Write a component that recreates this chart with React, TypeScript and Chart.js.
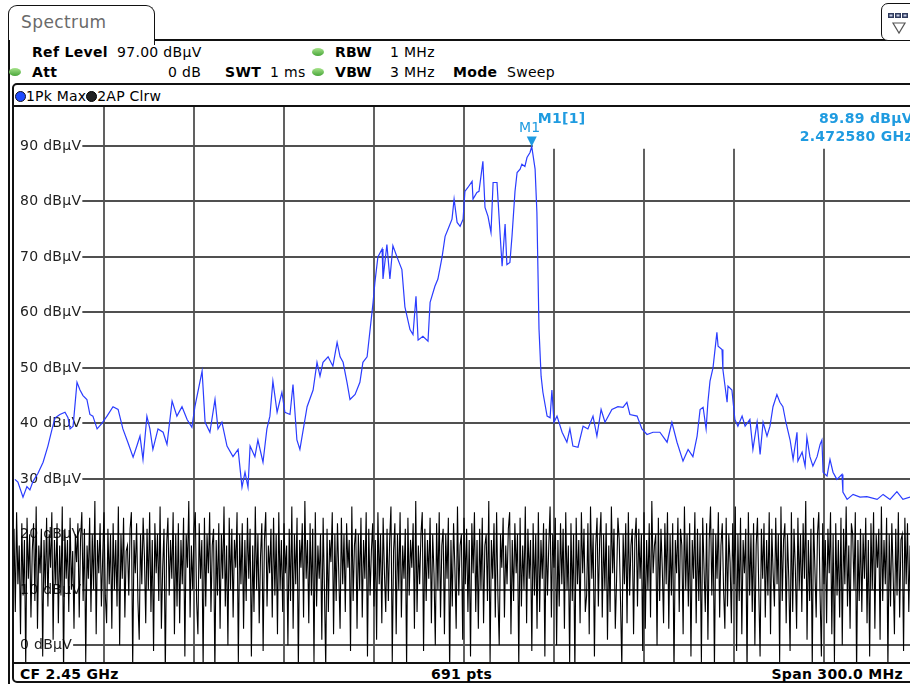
import { useEffect, useRef } from 'react';
import { Chart, registerables } from 'chart.js';

Chart.register(...registerables);

const FONT = '"DejaVu Sans", Verdana, sans-serif';
const MARKER_BLUE = '#1f9be0';

// Trace 1 (1Pk Max): frequency offset from 2.30 GHz in MHz, level in dBµV
const pkOffsetMHz = [
  0.3, 1.3, 3.0, 4.3, 5.3, 6.3, 8.0, 9.7, 11.3, 12.7, 13.7, 15.3, 17.0, 18.0, 18.7, 19.7, 21.0, 22.0, 23.0, 24.3,
  25.3, 26.3, 27.7, 29.3, 31.0, 33.0, 34.7, 36.3, 38.0, 39.7, 41.0, 42.0, 43.0, 44.3, 45.3, 46.3, 48.0, 49.7, 51.0, 52.7,
  54.3, 56.0, 57.7, 59.3, 60.3, 62.7, 63.7, 65.3, 67.0, 68.0, 69.3, 71.0, 73.0, 74.7, 76.0, 77.0, 78.0, 78.7, 80.3, 81.3,
  83.0, 84.3, 85.3, 86.3, 87.7, 89.3, 90.3, 92.0, 93.0, 94.3, 95.3, 97.7, 99.7, 101.0, 102.0, 103.0, 104.7, 106.3, 107.7, 108.7,
  109.7, 111.0, 112.0, 113.7, 115.3, 116.3, 117.7, 118.7, 119.7, 120.3, 121.3, 122.7, 123.0, 124.3, 125.3, 126.3, 128.0, 129.3, 130.3, 132.0,
  133.0, 134.0, 134.7, 136.3, 138.0, 138.7, 140.3, 141.3, 142.7, 143.7, 144.7, 146.0, 146.7, 147.7, 148.7, 149.7, 150.3, 151.3, 152.7, 153.0,
  154.3, 155.0, 156.3, 157.0, 158.0, 159.0, 159.7, 161.0, 162.0, 162.7, 163.7, 164.3, 165.3, 166.0, 167.0, 167.7, 168.7, 169.3, 170.3, 171.0,
  172.0, 172.58, 173.7, 174.3, 174.7, 175.0, 175.7, 176.3, 177.7, 178.7, 179.3, 180.0, 181.0, 182.7, 184.3, 185.3, 186.3, 188.0, 189.7, 191.3,
  193.0, 194.3, 195.7, 197.0, 199.3, 201.3, 203.0, 204.3, 205.3, 207.7, 209.3, 211.0, 213.0, 215.3, 217.7, 219.3, 221.0, 223.0, 224.7, 226.3,
  227.7, 228.7, 229.7, 230.7, 231.3, 232.0, 233.0, 234.3, 234.7, 236.0, 236.3, 237.7, 238.0, 239.3, 240.3, 241.3, 242.7, 243.7, 245.3, 246.3,
  247.7, 248.7, 249.7, 251.0, 252.0, 253.0, 254.3, 255.3, 256.3, 257.3, 258.7, 259.7, 261.0, 261.3, 262.7, 263.7, 264.3, 265.3, 266.3, 267.7,
  268.7, 269.3, 269.7, 271.0, 272.0, 273.0, 274.3, 276.0, 276.3, 277.7, 279.7, 282.0, 284.3, 287.7, 289.7, 292.0, 294.3, 296.3, 298.7, 300.0,
];
const pkLevel = [
  29.9, 29.4, 26.7, 28.6, 28.0, 29.5, 31.0, 33.0, 35.9, 39.0, 41.0, 41.6, 42.0, 41.0, 39.0, 39.5, 47.4, 46.0, 45.0, 44.3,
  41.6, 41.3, 39.0, 40.0, 41.3, 43.0, 42.5, 39.0, 36.5, 33.9, 36.0, 37.7, 33.5, 41.3, 39.0, 35.3, 39.0, 38.4, 36.2, 44.0,
  41.3, 43.0, 40.7, 39.3, 43.0, 49.4, 40.2, 38.4, 44.3, 39.0, 40.2, 35.9, 34.0, 35.3, 28.5, 31.2, 28.5, 35.9, 34.0, 37.0,
  33.0, 39.0, 41.3, 47.6, 42.0, 45.6, 42.0, 41.6, 47.0, 37.0, 35.3, 43.0, 46.0, 51.0, 48.5, 51.0, 52.0, 50.3, 54.6, 52.0,
  51.0, 47.4, 44.3, 45.2, 47.4, 51.0, 52.0, 56.9, 61.8, 65.4, 70.0, 71.4, 66.0, 72.2, 66.0, 72.0, 69.5, 67.7, 61.0, 56.9,
  56.0, 62.9, 55.0, 55.7, 54.8, 61.8, 64.7, 66.0, 70.0, 73.7, 75.0, 76.8, 80.4, 76.2, 75.5, 76.8, 81.8, 82.5, 83.6, 80.4,
  81.6, 81.8, 87.2, 78.9, 77.3, 74.4, 83.4, 83.4, 74.4, 68.3, 75.9, 68.6, 69.0, 73.7, 81.8, 85.2, 85.8, 86.7, 86.3, 87.9,
  88.8, 89.89, 85.8, 78.0, 66.0, 57.0, 48.5, 45.6, 41.3, 41.0, 46.0, 40.2, 41.3, 38.4, 36.6, 39.0, 35.9, 35.7, 39.5, 39.0,
  41.3, 37.7, 42.5, 40.2, 42.5, 43.0, 42.9, 43.8, 41.6, 41.3, 39.0, 38.0, 38.4, 38.4, 36.6, 40.2, 36.6, 33.2, 35.3, 34.0,
  37.7, 42.5, 42.9, 39.0, 43.8, 47.6, 50.0, 56.4, 53.9, 53.3, 49.7, 43.8, 46.7, 46.0, 40.7, 39.5, 41.3, 39.5, 40.7, 35.3,
  40.2, 34.4, 40.2, 37.7, 39.5, 43.0, 45.2, 43.8, 43.0, 40.2, 37.0, 33.5, 38.4, 33.2, 34.8, 32.3, 37.5, 34.0, 32.3, 34.0,
  36.2, 37.0, 31.2, 30.5, 33.5, 31.2, 29.9, 30.8, 27.6, 26.3, 27.2, 26.7, 26.8, 26.3, 27.2, 26.3, 27.7, 26.3, 26.7, 26.5,
];

// Trace 2 (2AP Clrw): noise floor, one value per sweep point (691 pts), dBµV
const apLevel = [
  21, 6, 24, 11, 18, 2, 22, 9, 19, -4, 23, 12, 20, 5, 17, 22, 8, 25, 3, 18, 13, 21, -2, 19, 10,
  23, 7, 20, 14, 24, 1, 19, 11, 22, 4, 18, 9, 25, -5, 21, 12, 19, 6, 23, 10, 17, 3, 20, 15, 22,
  5, 19, 24, 8, 21, -3, 18, 12, 23, 6, 20, 10, 26, 2, 19, 13, 22, 7, 16, 24, 9, 4, 21, 11, 20,
  3, 22, 10, 19, 7, 25, 0, 20, 12, 23, 5, 17, 18, 9, 21, 24, -4, 19, 13, 22, 8, 1, 20, 11, 23,
  16, 4, 21, 10, 24, 6, 19, -1, 22, 13, 20, 8, 25, 3, 14, 21, -5, 18, 23, 9, 19, 12, 24, 2, 20,
  7, 22, 4, 19, 11, 23, -2, 20, 14, 26, 5, 18, 10, 21, 24, 8, 2, 22, 12, 19, -4, 23, 7, 20, 13,
  24, 6, 18, 21, -5, 19, 9, 22, 3, 20, 12, 25, 7, 18, 0, 23, 10, 21, 5, 19, 14, 24, -3, 20, 11,
  22, 3, 19, 8, 23, 12, 21, -2, 18, 6, 25, 10, 20, 4, 16, 22, -1, 19, 24, 7, 18, 13, 21, 5, 23,
  9, 20, 2, 24, 10, 19, 6, 22, 13, 18, 0, 21, 8, 25, 3, 20, 11, 23, -4, 19, 14, 22, 5, 26, 12,
  19, 4, 22, 9, 21, -3, 24, 7, 18, 12, 20, 1, 23, 10, -4, 21, 6, 19, 15, 24, 2, 20, 8, 22, 13,
  3, 23, 11, 20, 6, 22, 14, 19, -1, 25, 8, 18, 21, 3, 20, 10, 23, 5, 19, 12, 24, -2, 21, 9, 17,
  22, 7, 19, 1, 24, 11, 20, 4, 23, 13, 6, 21, 8, 19, 25, -3, 17, 22, 2, 20, 10, 24, 5, 18, 12,
  21, -4, 23, 9, 19, 14, 22, 3, 26, 6, 18, 11, 20, 24, -1, 21, 8, 19, 12, 23, 4, 20, 13, 0, 22,
  10, 24, 5, 18, 21, 2, 20, 12, 23, -5, 19, 7, 22, 14, 3, 25, 9, 18, 20, 1, 23, 11, 21, 6, 19,
  -2, 22, 13, 24, 6, 19, 3, 21, 10, 23, 4, 18, 20, 8, 26, -3, 19, 12, 22, 5, 24, 9, 0, 20, 14,
  23, 5, 18, 11, 21, 24, 2, 19, 8, 22, 13, 20, -4, 23, 7, 18, 10, 25, 4, 21, 12, 19, -1, 22, 9,
  20, 3, 24, 6, 19, 12, 22, -2, 21, 9, 18, 25, 5, 20, 14, 23, 0, 19, 7, 22, 11, 21, 3, 24, 10,
  18, -3, 22, 8, 20, -5, 23, 11, 19, 4, 24, 13, 21, 6, 9, 22, 2, 25, 12, 20, -2, 18, 23, 7, 19,
  24, 5, 20, 10, 22, 1, 18, 6, 25, 13, 21, 3, 12, 23, 19, 8, -4, 20, 11, 22, 4, 24, 9, 18, 21,
  2, 19, 23, 7, 21, 12, 20, -1, 24, 3, 19, 10, 22, 5, 26, 13, 18, 20, 0, 23, 8, 21, 14, 4, 22,
  11, 24, 3, 20, 9, 22, -5, 19, 13, 23, 6, 21, 18, 2, 25, 10, 20, 7, 22, -2, 19, 12, 24, 4, 21,
  8, 20, -3, 23, 14, 6, 22, 1, 19, 25, 9, 21, -4, 20, 12, 24, 5, 18, 22, 10, 3, 23, 7, 20, 15,
  4, 22, 11, 25, -1, 20, 8, 23, 2, 19, 13, 21, -5, 24, 9, 20, 6, 22, 0, 18, 23, 10, -2, 21, 12,
  22, 5, 19, 9, 24, 2, 21, 13, 7, 23, 11, 20, -3, 25, 8, 19, 22, 4, 20, 12, -1, 24, 6, 21, 14,
  3, 23, 10, 20, 6, 22, 12, 26, 1, 19, 8, 21, -4, 23, 14, 5, 20, 24, 9, -2, 22, 11, 19, 4, 21,
  13, 24, 2, 20, -3, 22, 9, 19, 5, 23, 0, 21, 11, 25, 7, 18, 3, 22, 20, 10, 24, -5, 19, 8, 21,
  6, 20, 12, 23, 4, 19, -2, 22, 10, 24, 3, 20, 14, 21, 1, 25, 8, 19, 11, 23, -4, 20, 7, 22, 13,
  2, 21, 9, 24, 5, 19, 20, -1, 23, 11, 22, 6, 18, 25, 10, 20,
];

const SPAN_MHZ = 300;
const REF_LEVEL = 97;
const RANGE_DB = 100;
const gridLevels = [0, 10, 20, 30, 40, 50, 60, 70, 80, 90];
const gridOffsets = [30, 60, 90, 120, 150, 180, 210, 240, 270];
const marker = { offset: 172.58, level: 89.89, levelText: '89.89 dBµV', freqText: '2.472580 GHz' };

// the canvas shows 896 of the 900 px of the grid, the rest is cut off
const VISIBLE_SPAN = SPAN_MHZ * 896 / 900;

const gridPlugin = {
  id: 'fsvGrid',
  beforeDatasetsDraw(chart: any) {
    const { ctx, chartArea, scales } = chart;
    const xs = scales.x;
    const ys = scales.y;
    const markerX = xs.getPixelForValue(marker.offset);
    ctx.save();
    ctx.strokeStyle = '#505050';
    ctx.lineWidth = 1.8;
    gridOffsets.forEach((o) => {
      const x = Math.round(xs.getPixelForValue(o));
      const top = x > markerX ? ys.getPixelForValue(90) + 3 : chartArea.top;
      ctx.beginPath();
      ctx.moveTo(x, top);
      ctx.lineTo(x, chartArea.bottom);
      ctx.stroke();
    });
    ctx.font = `14px ${FONT}`;
    ctx.letterSpacing = '0.3px';
    ctx.textBaseline = 'middle';
    ctx.fillStyle = '#222';
    gridLevels.forEach((v) => {
      const y = Math.round(ys.getPixelForValue(v));
      const label = `${v} dBµV`;
      ctx.fillText(label, chartArea.left + 6, y);
      const start = chartArea.left + 6 + ctx.measureText(label).width + 1;
      const end = v === 90 ? markerX + 1 : chartArea.right;
      ctx.beginPath();
      ctx.moveTo(start, y);
      ctx.lineTo(end, y);
      ctx.stroke();
    });
    ctx.restore();
  },
  afterDatasetsDraw(chart: any) {
    const { ctx, chartArea, scales } = chart;
    const x = scales.x.getPixelForValue(marker.offset);
    const y = scales.y.getPixelForValue(marker.level);
    ctx.save();
    ctx.fillStyle = MARKER_BLUE;
    ctx.beginPath();
    ctx.moveTo(x - 5, y - 10);
    ctx.lineTo(x + 5, y - 10);
    ctx.lineTo(x, y);
    ctx.closePath();
    ctx.fill();
    ctx.letterSpacing = '0.3px';
    ctx.textBaseline = 'middle';
    ctx.font = `14px ${FONT}`;
    ctx.textAlign = 'center';
    ctx.fillText('M1', x - 2, y - 18);
    ctx.font = `bold 14px ${FONT}`;
    ctx.textAlign = 'left';
    ctx.fillText('M1[1]', x + 6, 12);
    ctx.textAlign = 'right';
    ctx.fillText(marker.levelText, chartArea.right + 3, 12);
    ctx.fillText(marker.freqText, chartArea.right + 3, 30);
    ctx.restore();
  },
};

function Dot({ left, top }: { left: number; top: number }) {
  return (
    <div
      style={{
        position: 'absolute',
        left,
        top,
        width: 12,
        height: 8,
        borderRadius: '50%',
        background: 'linear-gradient(#a6e38a, #49a63a)',
      }}
    />
  );
}

function Txt({ left, top, bold, children }: any) {
  return (
    <div
      style={{
        position: 'absolute',
        left,
        top,
        fontSize: 14,
        lineHeight: '16px',
        letterSpacing: '0.3px',
        fontWeight: bold ? 'bold' : 'normal',
        whiteSpace: 'nowrap',
        color: '#000',
      }}
    >
      {children}
    </div>
  );
}

export default function App() {
  const canvasRef = useRef<HTMLCanvasElement>(null);

  useEffect(() => {
    document.body.style.margin = '0';
    if (!canvasRef.current) return;
    const pkPoints = pkOffsetMHz.map((o, i) => ({ x: o, y: pkLevel[i] }));
    const step = SPAN_MHZ / (apLevel.length - 1);
    const apPoints = apLevel.map((v, i) => ({ x: i * step, y: v }));

    const chart = new Chart(canvasRef.current, {
      type: 'line',
      data: {
        datasets: [
          {
            label: '1Pk Max',
            data: pkPoints,
            borderColor: '#2a3cff',
            borderWidth: 1.2,
            pointRadius: 0,
            tension: 0,
          },
          {
            label: '2AP Clrw',
            data: apPoints,
            borderColor: '#000',
            borderWidth: 1.1,
            pointRadius: 0,
            tension: 0,
          },
        ],
      },
      options: {
        animation: false,
        responsive: false,
        layout: { padding: 0 },
        scales: {
          x: { type: 'linear', min: 0, max: VISIBLE_SPAN, display: false },
          y: { min: REF_LEVEL - RANGE_DB, max: REF_LEVEL, display: false },
        },
        plugins: { legend: { display: false }, tooltip: { enabled: false } },
      },
      plugins: [gridPlugin],
    });
    return () => chart.destroy();
  }, []);

  return (
    <div
      style={{
        position: 'relative',
        width: 910,
        height: 684,
        overflow: 'hidden',
        background: '#fff',
        fontFamily: FONT,
      }}
    >
      {/* tab */}
      <div
        style={{
          position: 'absolute',
          left: 8,
          top: 5,
          width: 147,
          height: 40,
          boxSizing: 'border-box',
          border: '1.5px solid #111',
          borderBottom: 'none',
          borderRadius: '9px 9px 0 0',
          background: '#fff',
        }}
      >
        <div style={{ position: 'absolute', left: 12, top: 6, fontSize: 17, letterSpacing: '0.4px', color: '#6a6a6a' }}>
          Spectrum
        </div>
      </div>
      <div style={{ position: 'absolute', left: 154, top: 39, width: 760, height: 1.5, background: '#111' }} />
      <div style={{ position: 'absolute', left: 8, top: 40, width: 1.5, height: 644, background: '#111' }} />
      {/* icon */}
      <div
        style={{
          position: 'absolute',
          left: 881,
          top: 3,
          width: 40,
          height: 38,
          boxSizing: 'border-box',
          border: '1.5px solid #111',
          borderRadius: 7,
          background: '#fff',
        }}
      >
        <svg width="30" height="34" style={{ position: 'absolute', left: 3, top: 5 }}>
          <rect x="3" y="4" width="6" height="5" fill="#2f3b5e" />
          <rect x="10" y="4" width="6" height="5" fill="#2f3b5e" />
          <rect x="17" y="4" width="6" height="5" fill="#2f3b5e" />
          <rect x="4.5" y="5.5" width="3" height="2" fill="#c9d0e6" />
          <rect x="11.5" y="5.5" width="3" height="2" fill="#c9d0e6" />
          <rect x="18.5" y="5.5" width="3" height="2" fill="#c9d0e6" />
          <polygon points="8,14 20,14 14,24" fill="none" stroke="#555" strokeWidth="1.2" />
        </svg>
      </div>

      {/* settings */}
      <Txt left={32} top={44} bold>Ref Level</Txt>
      <Txt left={117} top={44}>97.00 dBµV</Txt>
      <Dot left={312} top={48} />
      <Txt left={335} top={44} bold>RBW</Txt>
      <Txt left={390} top={44}>1 MHz</Txt>
      <Dot left={9} top={68} />
      <Txt left={32} top={64} bold>Att</Txt>
      <Txt left={168} top={64}>0 dB</Txt>
      <Txt left={225} top={64} bold>SWT</Txt>
      <Txt left={270} top={64}>1 ms</Txt>
      <Dot left={312} top={68} />
      <Txt left={335} top={64} bold>VBW</Txt>
      <Txt left={390} top={64}>3 MHz</Txt>
      <Txt left={453} top={64} bold>Mode</Txt>
      <Txt left={507} top={64}>Sweep</Txt>

      {/* measurement frame */}
      <div
        style={{
          position: 'absolute',
          left: 12,
          top: 83,
          width: 910,
          height: 600,
          boxSizing: 'border-box',
          border: '2px solid #111',
          borderRadius: 5,
        }}
      />
      <div style={{ position: 'absolute', left: 12, top: 105, width: 900, height: 1.5, background: '#111' }} />
      <div
        style={{
          position: 'absolute',
          left: 15,
          top: 88,
          display: 'flex',
          alignItems: 'center',
          fontSize: 14,
          lineHeight: '16px',
          letterSpacing: '0.2px',
        }}
      >
        <span style={{ width: 9, height: 9, borderRadius: '50%', background: '#1f4bff', border: '1px solid #112', display: 'inline-block' }} />
        <span>1Pk Max</span>
        <span style={{ width: 9, height: 9, borderRadius: '50%', background: '#222', border: '1px solid #000', display: 'inline-block' }} />
        <span>2AP Clrw</span>
      </div>

      <canvas
        ref={canvasRef}
        width={896}
        height={555}
        style={{ position: 'absolute', left: 14, top: 107, width: 896, height: 555, display: 'block' }}
      />

      {/* footer */}
      <div style={{ position: 'absolute', left: 12, top: 662, width: 900, height: 2, background: '#111' }} />
      <Txt left={20} top={666} bold>CF 2.45 GHz</Txt>
      <Txt left={431} top={666} bold>691 pts</Txt>
      <div
        style={{
          position: 'absolute',
          right: 7,
          top: 666,
          fontSize: 14,
          lineHeight: '16px',
          letterSpacing: '0.3px',
          fontWeight: 'bold',
          whiteSpace: 'nowrap',
        }}
      >
        Span 300.0 MHz
      </div>
    </div>
  );
}
